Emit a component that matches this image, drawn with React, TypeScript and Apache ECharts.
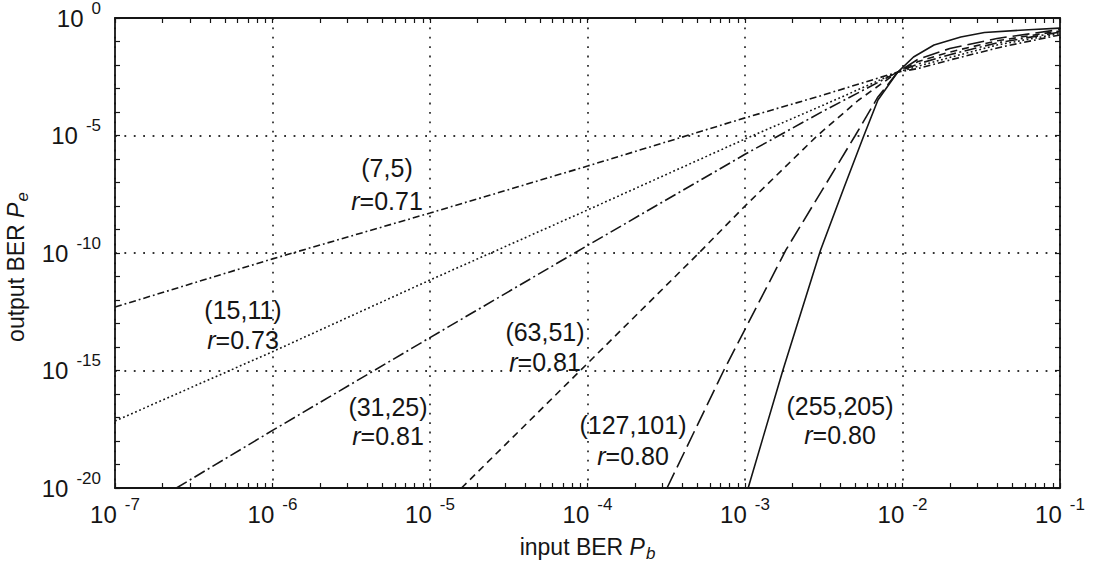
import React, { useEffect, useRef } from 'react';
import * as echarts from 'echarts';

// Axes are in log10 units: x = log10(input BER Pb), y = log10(output BER Pe)
const X_MIN = -7;
const X_MAX = -1;
const Y_MIN = -20;
const Y_MAX = 0;

// (7,5) r=0.71
const c7x = [-7, -6, -5, -4, -3, -2.5, -2.03, -1.9, -1.69, -1.37, -1];
const c7y = [-12.3, -10.25, -8.3, -6.3, -4.25, -3.27, -2.3, -2.15, -1.77, -1.23, -0.72];
// (15,11) r=0.73
const c15x = [-7, -6, -5, -4, -3, -2.5, -2.03, -1.9, -1.7, -1.4, -1];
const c15y = [-17.15, -14.2, -11.15, -8.17, -5.15, -3.7, -2.3, -2.05, -1.68, -1.15, -0.66];
// (31,25) r=0.81
const c31x = [-6.61, -6, -5, -4, -3, -2.5, -2.03, -1.9, -1.7, -1.4, -1];
const c31y = [-20, -17.55, -13.6, -9.68, -5.8, -3.95, -2.3, -1.95, -1.56, -1.06, -0.6];
// (63,51) r=0.81
const c63x = [-4.8, -4, -3.3, -3, -2.54, -2.28, -2.03, -1.9, -1.7, -1.4, -1];
const c63y = [-20, -14.7, -10.05, -8.0, -5.0, -3.5, -2.3, -1.85, -1.45, -0.97, -0.55];
// (127,101) r=0.80
const c127x = [-3.495, -3.135, -2.74, -2.3, -2.156, -2.03, -1.9, -1.7, -1.4, -1];
const c127y = [-20, -15, -9.87, -5.0, -3.36, -2.3, -1.75, -1.3, -0.87, -0.49];
// (255,205) r=0.80
const c255x = [-2.98, -2.76, -2.52, -2.37, -2.245, -2.156, -2.03, -1.93, -1.8, -1.63, -1.48, -1.2, -1];
const c255y = [-20, -15, -9.87, -7.19, -5.0, -3.49, -2.3, -1.66, -1.15, -0.81, -0.62, -0.5, -0.43];

const codeNames = ['(7,5)', '(15,11)', '(31,25)', '(63,51)', '(127,101)', '(255,205)'];
const codeRates = ['0.71', '0.73', '0.81', '0.81', '0.80', '0.80'];

const xDecades = [-7, -6, -5, -4, -3, -2, -1];
const yDecades = [-20, -19, -18, -17, -16, -15, -14, -13, -12, -11, -10, -9, -8, -7, -6, -5, -4, -3, -2, -1, 0];
const minorMultipliers = [1, 2, 3, 4, 5, 6, 7, 8, 9];

const FONT = '"Liberation Sans", Arial, Helvetica, sans-serif';
const INK = '#151515';

const pairs = (xs: number[], ys: number[]) => xs.map((x, i) => [x, ys[i]]);

export default function App() {
  const ref = useRef<HTMLDivElement>(null);

  useEffect(() => {
    document.body.style.margin = '0';
    if (!ref.current) return;
    const chart = echarts.init(ref.current, undefined, { renderer: 'svg' });

    const xTicks: number[] = [];
    xDecades.forEach((d) => {
      if (d === X_MAX) {
        xTicks.push(d);
        return;
      }
      minorMultipliers.forEach((m) => xTicks.push(d + Math.log10(m)));
    });

    const tickRich = {
      b: { fontSize: 24, fontFamily: FONT, color: INK },
      s: { fontSize: 17, fontFamily: FONT, color: INK, padding: [0, 0, 20, 8] },
    };
    const powLabel = (v: number) => `{b|10}{s|${Math.round(v)}}`;

    const nameRich = () => ({
      rich: {
        n: { fontSize: 23, fontFamily: FONT, color: INK },
        i: { fontSize: 23, fontFamily: FONT, color: INK, fontStyle: 'italic' },
        sub: { fontSize: 17, fontFamily: FONT, color: INK, fontStyle: 'italic', padding: [13, 0, 0, 1] },
      },
    });

    const frameLine = { show: true, onZero: false, lineStyle: { color: INK, width: 1.8 } };
    const tickStyle = { color: INK, width: 1.2 };
    const gridLine = { show: true, lineStyle: { color: '#333', width: 1.8, type: [1.8, 7.6] } };

    const styles: { type: any }[] = [
      { type: [7, 3, 1.8, 3] },
      { type: [1.8, 2.6] },
      { type: [12, 3.5, 2, 3.5] },
      { type: [7, 5] },
      { type: [17, 6] },
      { type: 'solid' },
    ];
    const xs = [c7x, c15x, c31x, c63x, c127x, c255x];
    const ys = [c7y, c15y, c31y, c63y, c127y, c255y];

    const series = codeNames.map((nm, i) => ({
      name: nm,
      type: 'line',
      xAxisIndex: 0,
      yAxisIndex: 0,
      data: pairs(xs[i], ys[i]),
      showSymbol: false,
      symbol: 'none',
      smooth: false,
      lineStyle: { color: INK, width: 1.6, type: styles[i].type },
      z: 3,
    }));

    const labelPos = [
      [387, 168, 201],
      [243, 310, 340],
      [388, 407, 436],
      [545, 332, 362],
      [633, 425, 456],
      [840, 406, 435],
    ];
    const graphics: any[] = [];
    codeNames.forEach((nm, i) => {
      const [x, y1, y2] = labelPos[i];
      graphics.push({
        type: 'text',
        x,
        y: y1,
        z: 10,
        style: {
          text: nm,
          font: `25px ${FONT}`,
          fill: INK,
          align: 'center',
          verticalAlign: 'middle',
        },
      });
      graphics.push({
        type: 'text',
        x,
        y: y2,
        z: 10,
        style: {
          text: `{i|r}{n|=${codeRates[i]}}`,
          fill: INK,
          align: 'center',
          verticalAlign: 'middle',
          rich: {
            i: { fontSize: 25, fontFamily: FONT, fontStyle: 'italic', fill: INK, color: INK },
            n: { fontSize: 25, fontFamily: FONT, fill: INK, color: INK },
          },
        },
      });
    });

    const gridRect = { left: 115, right: 35, top: 18, bottom: 78, show: false, containLabel: false, outerBoundsMode: 'none' };

    chart.setOption({
      animation: false,
      backgroundColor: '#ffffff',
      grid: [gridRect, { ...gridRect }],
      xAxis: [
        {
          gridIndex: 0,
          type: 'value',
          position: 'bottom',
          min: X_MIN,
          max: X_MAX,
          interval: 1,
          axisLine: frameLine,
          axisTick: { show: true, inside: true, length: 5, customValues: xTicks, lineStyle: tickStyle },
          axisLabel: { show: true, margin: 8, formatter: powLabel, rich: tickRich, customValues: xDecades },
          splitLine: { show: false },
          name: '{n|input BER }{i|P}{sub|b}',
          nameLocation: 'middle',
          nameGap: 44,
          nameTextStyle: nameRich(),
        },
        {
          gridIndex: 0,
          type: 'value',
          position: 'top',
          min: X_MIN,
          max: X_MAX,
          interval: 1,
          axisLine: frameLine,
          axisTick: { show: true, inside: true, length: 5, customValues: xTicks, lineStyle: tickStyle },
          axisLabel: { show: false },
          splitLine: { show: false },
        },
        {
          gridIndex: 1,
          type: 'value',
          min: X_MIN,
          max: X_MAX,
          interval: 1,
          axisLine: { show: false },
          axisTick: { show: false },
          axisLabel: { show: false },
          splitLine: gridLine,
        },
      ],
      yAxis: [
        {
          gridIndex: 0,
          type: 'value',
          position: 'left',
          min: Y_MIN,
          max: Y_MAX,
          interval: 5,
          axisLine: frameLine,
          axisTick: { show: true, inside: true, length: 5, customValues: yDecades, lineStyle: tickStyle },
          axisLabel: { show: true, margin: 14, formatter: powLabel, rich: tickRich },
          splitLine: { show: false },
          name: '{n|output BER }{i|P}{sub|e}',
          nameLocation: 'middle',
          nameGap: 80,
          nameRotate: 90,
          nameTextStyle: { ...nameRich(), padding: [0, 28, 0, 0] },
        },
        {
          gridIndex: 0,
          type: 'value',
          position: 'right',
          min: Y_MIN,
          max: Y_MAX,
          interval: 5,
          axisLine: frameLine,
          axisTick: { show: true, inside: true, length: 5, customValues: yDecades, lineStyle: tickStyle },
          axisLabel: { show: false },
          splitLine: { show: false },
        },
        {
          gridIndex: 1,
          type: 'value',
          min: Y_MIN,
          max: Y_MAX,
          interval: 5,
          axisLine: { show: false },
          axisTick: { show: false },
          axisLabel: { show: false },
          splitLine: gridLine,
        },
      ],
      series,
      graphic: graphics,
    });

    return () => {
      chart.dispose();
    };
  }, []);

  return <div ref={ref} style={{ width: 1095, height: 566, background: '#fff' }} />;
}
